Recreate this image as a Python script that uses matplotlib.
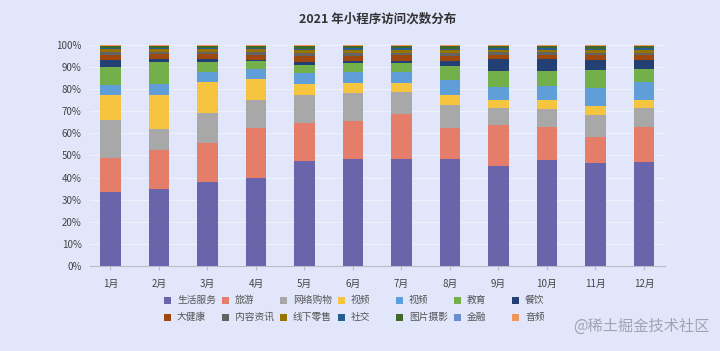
import matplotlib.pyplot as plt
from matplotlib.patches import Rectangle
import numpy as np

plt.rcParams['font.family'] = ['Noto Sans CJK SC', 'DejaVu Sans']

meses = ['1月', '2月', '3月', '4月', '5月', '6月', '7月', '8月', '9月', '10月', '11月', '12月']
categorias = ['生活服务', '旅游', '网络购物', '视频', '视频', '教育', '餐饮',
              '大健康', '内容资讯', '线下零售', '社交', '图片摄影', '金融', '音频']

# valores en % por categoria (de abajo hacia arriba)
shenghuo = [33.5, 35.0, 38.0, 40.0, 47.5, 48.5, 48.5, 48.0, 45.5, 48.0, 46.5, 47.0]
lvyou = [15.0, 17.5, 18.0, 22.6, 17.5, 17.5, 20.5, 14.0, 18.5, 15.0, 12.0, 16.0]
gouwu = [17.5, 9.8, 13.5, 13.0, 12.7, 12.6, 10.0, 10.5, 7.6, 8.3, 10.1, 8.6]
shipin_a = [11.2, 15.4, 14.2, 9.3, 4.9, 4.5, 4.1, 4.6, 3.5, 3.8, 3.9, 3.5]
shipin_b = [4.2, 4.9, 4.5, 4.5, 5.0, 5.1, 5.1, 6.6, 6.0, 6.5, 8.2, 8.0]
jiaoyu = [8.3, 10.2, 4.3, 3.6, 3.6, 4.0, 4.0, 6.5, 7.1, 6.6, 8.0, 6.3]
canyin = [3.0, 1.2, 1.5, 0.6, 1.5, 1.0, 1.0, 2.3, 5.5, 5.5, 4.5, 3.8]
dajiankang = [2.5, 2.5, 2.2, 2.4, 2.6, 2.4, 2.5, 2.3, 2.0, 2.0, 2.2, 2.3]
neirong = [1.0, 0.9, 1.0, 1.1, 1.2, 1.2, 1.1, 1.1, 1.0, 1.0, 1.1, 1.1]
lingshou = [1.4, 1.2, 1.3, 1.3, 1.5, 1.5, 1.5, 1.4, 1.3, 1.3, 1.4, 1.4]
shejiao = [0.5, 0.4, 0.5, 0.5, 0.6, 0.6, 0.6, 0.6, 0.5, 0.5, 0.5, 0.5]
tupian = [0.9, 0.8, 0.8, 0.9, 1.1, 1.0, 1.0, 1.1, 1.0, 1.0, 1.1, 1.0]
jinrong = [0.3, 0.3, 0.3, 0.3, 0.3, 0.3, 0.3, 0.3, 0.3, 0.3, 0.3, 0.3]
yinpin = [0.3, 0.3, 0.3, 0.3, 0.3, 0.3, 0.3, 0.3, 0.3, 0.3, 0.3, 0.3]

series = [shenghuo, lvyou, gouwu, shipin_a, shipin_b, jiaoyu, canyin,
          dajiankang, neirong, lingshou, shejiao, tupian, jinrong, yinpin]
colores = ['#6a64ab', '#e47e6a', '#a8a8a8', '#f5c540', '#5f9ed9', '#74b04a', '#243f73',
           '#9e480e', '#636363', '#997300', '#255e91', '#43682b', '#698ed0', '#f1975a']

datos = np.array(series, dtype=float)
datos = datos / datos.sum(axis=0) * 100

fondo = '#e1e6fa'
fig = plt.figure(figsize=(7.2, 3.51), dpi=100, facecolor=fondo)
ax = fig.add_axes([0.125, 0.242, 0.799, 0.630], facecolor=fondo)

x = np.arange(len(meses))
base = np.zeros(len(meses))
for i, fila in enumerate(datos):
    ax.bar(x, fila, 0.42, bottom=base, color=colores[i], label=categorias[i], zorder=3)
    base += fila

ax.set_ylim(0, 100)
ax.set_xlim(-0.42, 11.44)
ax.set_yticks(np.arange(0, 101, 10))
ax.set_yticklabels(['{}%'.format(v) for v in range(0, 101, 10)])
ax.set_xticks(x)
ax.set_xticklabels(meses)
ax.tick_params(axis='both', labelsize=7, colors='#444444', length=0, pad=6)
ax.tick_params(axis='x', length=3, color='#b8bcc8')
ax.grid(axis='y', color='#f0f2fb', linewidth=0.8, zorder=0)
for lado in ['top', 'right', 'left']:
    ax.spines[lado].set_visible(False)
ax.spines['bottom'].set_color('#b8bcc8')

ax.set_title('2021 年小程序访问次数分布', fontsize=9, fontweight='bold', color='#333333', pad=16)

# leyenda manual: 2 filas x 7 columnas, espaciado fijo
W, H = 720, 351
for i, nombre in enumerate(categorias):
    fila, col = divmod(i, 7)
    cx = 167 + col * 58
    cy = 300 + fila * 17
    fig.add_artist(Rectangle(((cx - 3.5) / W, 1 - (cy + 3.5) / H), 7 / W, 7 / H,
                             transform=fig.transFigure, color=colores[i], lw=0))
    fig.text((cx + 10) / W, 1 - cy / H, nombre, fontsize=7, color='#555555',
             ha='left', va='center')

fig.text(0.985, 0.045, '@稀土掘金技术社区', ha='right', va='bottom', fontsize=11, color='#a0a4b0')

plt.savefig('out.png', dpi=100, facecolor=fondo)
